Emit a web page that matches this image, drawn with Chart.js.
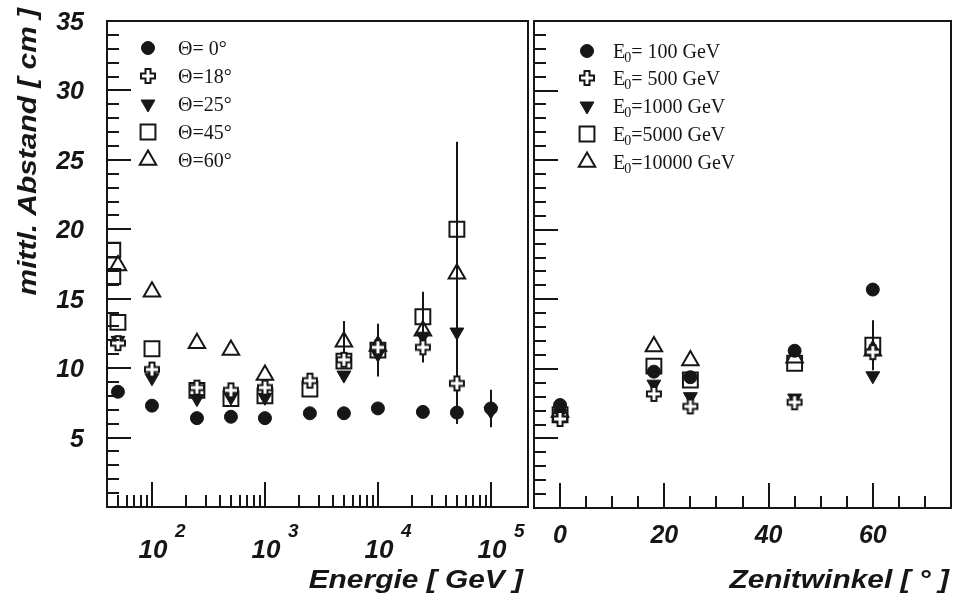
<!DOCTYPE html>
<html>
<head>
<meta charset="utf-8">
<title>mittl. Abstand</title>
<script src="https://cdn.jsdelivr.net/npm/chart.js"></script>
<style>
  body { margin: 0; background: #fff; }
  #wrap { position: relative; width: 954px; height: 599px; }
  #cE { position: absolute; left: 0; top: 0; }
  #cZ { position: absolute; left: 531px; top: 0; }
</style>
</head>
<body>
<div id="wrap">
  <canvas id="cE" width="531" height="599"></canvas>
  <canvas id="cZ" width="423" height="599"></canvas>
</div>
<script>
// left panel: mean distance vs. primary energy, one series per zenith angle
const energies = [50, 100, 250, 500, 1000, 2500, 5000, 10000, 25000, 50000, 100000];
const theta0  = [8.3, 7.3, 6.4, 6.5, 6.4, 6.75, 6.75, 7.1, 6.85, 6.8, 7.1];
const theta18 = [11.8, 9.9, 8.6, 8.4, 8.6, 9.1, 10.6, 11.5, 11.5, 8.9, null];
const theta25 = [12.0, 9.3, 7.8, 7.9, 7.9, null, 9.5, 11.0, 12.3, 12.6, 6.9];
const theta45 = [13.3, 11.4, 8.4, 7.8, 8.0, 8.5, 10.5, 11.3, 13.7, 20.0, null];
const theta60 = [17.4, 15.5, 11.8, 11.3, 9.5, null, 11.9, 11.6, 12.7, 16.8, null];
// two more squares drawn at the left frame edge
const theta45ExtraE = [45, 45];
const theta45Extra  = [18.5, 16.6];
// errors (+/-), 0 = smaller than the marker
const err0  = [0, 0, 0, 0, 0, 0, 0, 0, 0, 0.8, 1.35];
const err18 = [0, 0, 0, 0, 0, 0, 0, 0, 1.1, 2.9, 0];
const err25 = [0, 0, 0, 0, 0, 0, 0, 0, 0, 4.0, 0];
const err45 = [0, 0, 0, 0, 0, 0, 0, 1.9, 1.8, 6.3, 0];
const err60 = [0, 0, 0, 0, 0, 0, 1.5, 0, 0, 5.0, 0];
const thetaLabels = ['\u0398= 0\u00b0', '\u0398=18\u00b0', '\u0398=25\u00b0', '\u0398=45\u00b0', '\u0398=60\u00b0'];
const powers = [2, 3, 4, 5];
const distLabels = [5, 10, 15, 20, 25, 30, 35];

// right panel: mean distance vs. zenith angle, one series per energy
const angles = [0, 18, 25, 45, 60];
const e100   = [7.4, 9.8, 9.4, 11.3, 15.7];
const e500   = [6.4, 8.2, 7.3, 7.6, 11.2];
const e1000  = [6.8, 8.9, 8.0, 7.9, 9.5];
const e5000  = [6.7, 10.2, 9.2, 10.4, 11.7];
const e10000 = [6.9, 11.6, 10.6, 10.8, 11.3];
const errE5000 = [0, 0, 0, 0, 1.8];
const energyLabels = ['= 100 GeV', '= 500 GeV', '=1000 GeV', '=5000 GeV', '=10000 GeV'];
const angleLabels = [0, 20, 40, 60];

const ink = '#161616';
const sansFamily = '"Liberation Sans", Arial, Helvetica, sans-serif';
const fontB = s => `italic bold ${s}px ${sansFamily}`;
const fontS = s => `${s}px "Liberation Serif", "Times New Roman", serif`;

// open cross marker (white inside)
function makeCross() {
  const c = document.createElement('canvas');
  c.width = 18; c.height = 18;
  const g = c.getContext('2d');
  const a = 2, b = 6.5, e = 11.5, f = 16;
  g.beginPath();
  g.moveTo(b, a); g.lineTo(e, a); g.lineTo(e, b); g.lineTo(f, b); g.lineTo(f, e);
  g.lineTo(e, e); g.lineTo(e, f); g.lineTo(b, f); g.lineTo(b, e); g.lineTo(a, e);
  g.lineTo(a, b); g.lineTo(b, b); g.closePath();
  g.fillStyle = '#fff'; g.fill();
  g.lineWidth = 2; g.strokeStyle = ink; g.stroke();
  return c;
}
const crossImg = makeCross();

const markers = [
  { pointStyle: 'circle', radius: 6.5, rotation: 0, fill: ink, bw: 1 },
  { pointStyle: crossImg, radius: 9, rotation: 0, fill: '#fff', bw: 0 },
  { pointStyle: 'triangle', radius: 8, rotation: 180, fill: ink, bw: 1 },
  { pointStyle: 'rect', radius: 10.5, rotation: 0, fill: 'rgba(0,0,0,0)', bw: 2 },
  { pointStyle: 'triangle', radius: 9.5, rotation: 0, fill: 'rgba(0,0,0,0)', bw: 2 }
];

function points(xs, ys, errs) {
  const out = [];
  xs.forEach((xv, i) => {
    if (ys[i] == null) return;
    out.push({ x: xv, y: ys[i], e: errs ? errs[i] : 0 });
  });
  return out;
}

function dataset(label, data, m) {
  return {
    label: label,
    data: data,
    pointStyle: m.pointStyle,
    pointRadius: m.radius,
    pointRotation: m.rotation,
    pointBackgroundColor: m.fill,
    pointBorderColor: ink,
    pointBorderWidth: m.bw,
    showLine: false
  };
}

// wide bold-italic text, like the PAW Helvetica
function wideText(ctx, text, x, y, size, align) {
  ctx.save();
  ctx.font = fontB(size);
  const w = ctx.measureText(text).width * 1.15;
  const x0 = align === 'right' ? x - w : (align === 'center' ? x - w / 2 : x);
  ctx.translate(x0, y);
  ctx.scale(1.15, 1);
  ctx.textAlign = 'left';
  ctx.fillText(text, 0, 0);
  ctx.restore();
}

// frame, inside ticks, labels, error bars, titles and legend in the PAW style
const paw = {
  id: 'paw',
  beforeDatasetsDraw(chart) {
    const { ctx, scales: { x, y } } = chart;
    ctx.save();
    ctx.strokeStyle = ink;
    ctx.lineWidth = 2;
    chart.data.datasets.forEach(ds => {
      ds.data.forEach(p => {
        if (!p.e) return;
        const px = Math.round(x.getPixelForValue(p.x));
        ctx.beginPath();
        ctx.moveTo(px, y.getPixelForValue(p.y + p.e));
        ctx.lineTo(px, y.getPixelForValue(p.y - p.e));
        ctx.stroke();
      });
    });
    ctx.restore();
  },
  afterDraw(chart, args, o) {
    const { ctx, chartArea: a, scales: { x, y } } = chart;
    ctx.save();
    ctx.strokeStyle = ink;
    ctx.fillStyle = ink;
    ctx.lineWidth = 2;
    ctx.strokeRect(a.left, a.top, a.right - a.left, a.bottom - a.top);

    ctx.beginPath();
    for (let v = 1; v < 35; v++) {
      const py = Math.round(y.getPixelForValue(v));
      ctx.moveTo(a.left, py);
      ctx.lineTo(a.left + (v % 5 ? 12 : 24), py);
    }
    o.xTicks.forEach(t => {
      const px = Math.round(x.getPixelForValue(t.v));
      ctx.moveTo(px, a.bottom);
      ctx.lineTo(px, a.bottom - (t.major ? 25 : 12));
    });
    ctx.stroke();

    ctx.textBaseline = 'alphabetic';
    // y tick labels
    (o.yLabels || []).forEach(v => {
      const py = y.getPixelForValue(v);
      ctx.font = fontB(25);
      ctx.textAlign = 'right';
      ctx.fillText(String(v), 84, py + 9);
    });
    // linear x tick labels
    (o.xLabels || []).forEach(v => {
      const px = x.getPixelForValue(v);
      ctx.font = fontB(25);
      ctx.textAlign = 'center';
      ctx.fillText(String(v), px, 543);
    });
    // 10^n labels for the log axis
    (o.powers || []).forEach(p => {
      const px = x.getPixelForValue(Math.pow(10, p));
      ctx.font = fontB(26);
      ctx.textAlign = 'center';
      ctx.fillText('10', px + 1, 558);
      ctx.font = fontB(19);
      ctx.textAlign = 'left';
      ctx.fillText(String(p), px + 23, 537);
    });

    // axis titles
    wideText(ctx, o.xTitle.text, o.xTitle.x, o.xTitle.y, 26, 'right');
    if (o.yTitle) {
      ctx.save();
      ctx.translate(o.yTitle.x, o.yTitle.y);
      ctx.rotate(-Math.PI / 2);
      wideText(ctx, o.yTitle.text, 0, 0, 26, 'right');
      ctx.restore();
    }

    // legend
    const lg = o.legend;
    chart.data.datasets.slice(0, lg.labels.length).forEach((ds, i) => {
      const ry = lg.rows[i];
      ctx.fillStyle = ds.pointBackgroundColor;
      ctx.strokeStyle = ink;
      ctx.lineWidth = ds.pointBorderWidth;
      Chart.helpers.drawPoint(ctx, {
        pointStyle: ds.pointStyle, radius: ds.pointRadius,
        rotation: ds.pointRotation, borderWidth: ds.pointBorderWidth
      }, lg.markerX, ry);
      ctx.fillStyle = ink;
      ctx.textAlign = 'left';
      let tx = lg.textX;
      if (lg.sub) {
        ctx.font = fontS(20);
        ctx.fillText('E', tx, ry + 7);
        tx += ctx.measureText('E').width - 1;
        ctx.font = fontS(14);
        ctx.fillText('0', tx, ry + 11);
        tx += ctx.measureText('0').width;
      }
      ctx.font = fontS(20);
      ctx.fillText(lg.labels[i], tx, ry + 7);
    });
    ctx.restore();
  }
};

const logTicks = [];
for (let d = 1; d <= 5; d++) {
  for (let m = 1; m <= 9; m++) {
    const v = m * Math.pow(10, d);
    if (v > 40 && v <= 100000) logTicks.push({ v: v, major: m === 1 });
  }
}
const linTicks = [];
for (let v = 0; v <= 70; v += 5) linTicks.push({ v: v, major: v % 20 === 0 });

const leftSets = [theta0, theta18, theta25, theta45, theta60].map((ys, i) =>
  dataset(thetaLabels[i], points(energies, ys, [err0, err18, err25, err45, err60][i]), markers[i]));
leftSets.push(dataset('\u0398=45\u00b0', points(theta45ExtraE, theta45Extra), markers[3]));

new Chart(document.getElementById('cE'), {
  type: 'scatter',
  data: { datasets: leftSets },
  options: {
    responsive: false,
    animation: false,
    layout: { autoPadding: false, padding: { top: 21, right: 3, left: 107, bottom: 92 } },
    plugins: {
      legend: { display: false },
      tooltip: { enabled: false },
      paw: {
        xTicks: logTicks,
        powers: powers,
        yLabels: distLabels,
        xTitle: { text: 'Energie [ GeV ]', x: 523, y: 588 },
        yTitle: { text: 'mittl. Abstand [ cm ]', x: 36, y: 8 },
        legend: { labels: thetaLabels, rows: [48, 76, 104, 132, 160], markerX: 148, textX: 178 }
      }
    },
    scales: {
      x: { type: 'logarithmic', display: false, min: 40, max: 213000 },
      y: { display: false, min: 0, max: 35 }
    }
  },
  plugins: [paw]
});

const rightSets = [e100, e500, e1000, e5000, e10000].map((ys, i) =>
  dataset('E0' + energyLabels[i], points(angles, ys, i === 3 ? errE5000 : null), markers[i]));

new Chart(document.getElementById('cZ'), {
  type: 'scatter',
  data: { datasets: rightSets },
  options: {
    responsive: false,
    animation: false,
    layout: { autoPadding: false, padding: { top: 21, right: 3, left: 3, bottom: 91 } },
    plugins: {
      legend: { display: false },
      tooltip: { enabled: false },
      paw: {
        xTicks: linTicks,
        xLabels: angleLabels,
        xTitle: { text: 'Zenitwinkel [ \u00b0 ]', x: 418, y: 588 },
        legend: { labels: energyLabels, rows: [51, 78, 106, 134, 162], markerX: 56, textX: 82, sub: true }
      }
    },
    scales: {
      x: { display: false, min: -5, max: 75 },
      y: { display: false, min: 0, max: 35 }
    }
  },
  plugins: [paw]
});
</script>
</body>
</html>
